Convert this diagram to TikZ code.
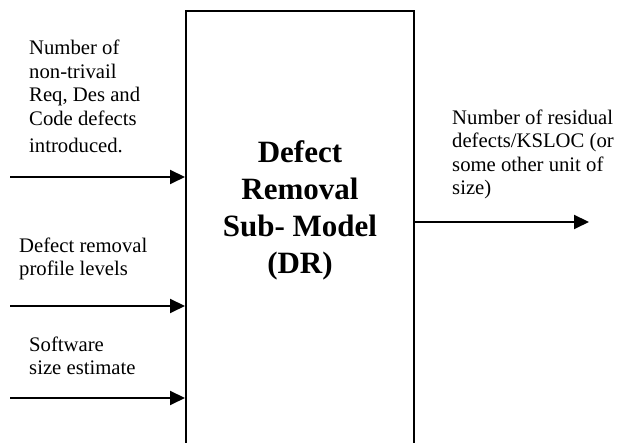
\documentclass[tikz,border=0pt]{standalone}
\usepackage{fontspec}
\setmainfont{Liberation Serif}
\usetikzlibrary{positioning,calc,arrows.meta}

\tikzset{
    lbl/.style={font=\fontsize{20.7}{23.5}\selectfont, align=left, anchor=base west, inner sep=0pt},
    flow/.style={->, line width=2pt}
}

\begin{document}
\begin{tikzpicture}[x=1pt, y=1pt, >={Triangle[length=15pt,width=14pt]}]
    \useasboundingbox (0,0) rectangle (623,443);
    % Nodes
    \node [draw, rectangle, line width=2pt, minimum width=228pt, minimum height=440pt] (dr) at (300,212) {};
    \node [font=\bfseries\fontsize{31}{37}\selectfont, align=center] (title) at (300,233) {Defect\\Removal\\Sub- Model\\(DR)};

    \coordinate (in1) at (10,266);
    \coordinate (in2) at (10,137);
    \coordinate (in3) at (10,45);
    \coordinate (out) at (589,221);

    % labels (anchored at the baseline of their last line)
    \node [lbl] (defin) at (29,290) {Number of\\non-trivail\\Req, Des and\\Code defects\\[4pt]introduced.};
    \node [lbl] (profile) at (19,167) {Defect removal\\profile levels};
    \node [lbl] (size) at (29,68) {Software\\size estimate};
    \node [lbl] (resid) at (452,248) {Number of residual\\defects/KSLOC (or\\some other unit of\\size)};
    % Arrows
    \draw [flow] (in1) -- (in1 -| dr.west);
    \draw [flow] (in2) -- (in2 -| dr.west);
    \draw [flow] (in3) -- (in3 -| dr.west);
    \draw [flow] (out -| dr.east) -- (out);
\end{tikzpicture}
\end{document}
